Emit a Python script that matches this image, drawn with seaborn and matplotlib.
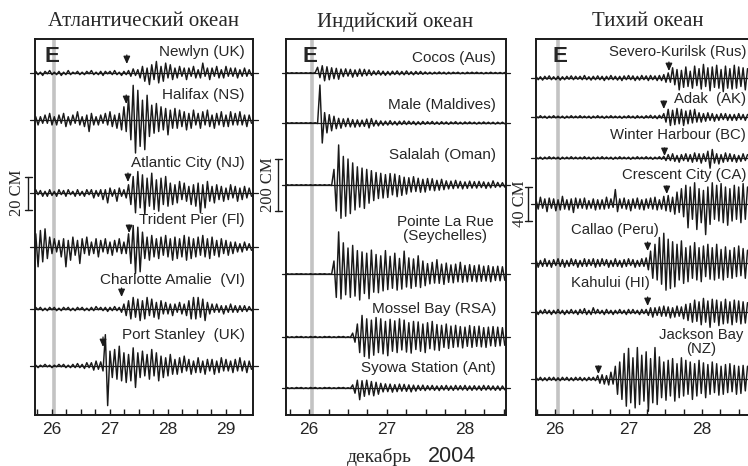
import numpy as np
import pandas as pd
import matplotlib
matplotlib.use("Agg")
import matplotlib.pyplot as plt
import seaborn as sns

sns.set_theme(style="white")
plt.rcParams["font.family"] = ["Liberation Sans", "DejaVu Sans"]
SERIF = ["Liberation Serif", "DejaVu Serif"]

# ---------------------------------------------------------------------------
# Sea-level records (cm), de-tided, sampled at regular steps (days of Dec 2004)
# ---------------------------------------------------------------------------
atl_t0, atl_dt = 25.72, 0.04
newlyn = [1, -1, 0.5, -1.5, 1, -0.5, 1.5, -1, 0.5, -1,
          1, -1.5, 0.5, -1, 1.5, -1, 0.5, -0.5, 1, -1,
          0.5, -1, 1, -0.5, 1.5, -1, 0.5, -1, 1, -1.5,
          1, -0.5, 1, -1, 1.5, -1, 0.5, -1.5, 1, -1,
          1.5, -2, 2.5, -1.5, 2, -3, 4, -5, 3, -7,
          5, -4, 7, -6, 4, -5, 6, -3, 5, -4,
          3, -3, 4, -2, 3, -4, 3, -2, 4, -3,
          2, -3, 6, -2, 3, -4, 3, -2, 4, -3,
          2, -3, 4, -2, 3, -2, 3, -3, 2, -2,
          3, -2, 2, -1.5]
halifax = [2, -3, 2, -2, 3, -2, 4, -3, 2, -3,
           3, -2, 4, -4, 2, -3, 3, -2, 5, -3,
           2, -4, 3, -7, 4, -3, 2, -3, 3, -2,
           4, -3, 5, -4, 3, -5, 4, -6, 8, -7,
           14, -12, 21, -20, 18, -16, 12, -18, 15, -10,
           9, -8, 10, -7, 8, -6, 7, -9, 6, -5,
           7, -5, 6, -4, 5, -6, 4, -5, 6, -3,
           4, -5, 5, -3, 6, -4, 3, -5, 4, -3,
           5, -4, 3, -4, 5, -3, 4, -3, 5, -3,
           3, -4, 3, -2]
atlantic_city = [2, -1, 1.5, -2, 1, -2, 2, -1.5, 1, -2,
                 2, -1, 1.5, -2, 2, -1, 1, -2, 2, -1.5,
                 1, -2, 2, -1, 2, -3, 1.5, -2, 2, -4,
                 2, -6, 3, -2, 2, -5, 3, -2, 2, -3,
                 5, -7, 10, -12, 13, -9, 11, -13, 9, -8,
                 12, -10, 8, -11, 9, -7, 10, -8, 6, -7,
                 5, -6, 7, -4, 6, -5, 4, -7, 5, -8,
                 6, -12, 5, -9, 7, -5, 4, -6, 5, -4,
                 4, -5, 3, -4, 5, -3, 4, -5, 3, -4,
                 4, -3, 3, -2]
trident_pier = [8, -12, 10, -9, 11, -7, 6, -4, 5, -3,
                4, -6, 5, -12, 4, -8, 6, -5, 4, -10,
                5, -4, 6, -5, 3, -4, 5, -6, 4, -3,
                5, -4, 3, -5, 4, -3, 5, -4, 3, -4,
                8, -10, 13, -16, 12, -15, 9, -7, 6, -8,
                7, -6, 5, -7, 6, -5, 7, -6, 5, -8,
                6, -7, 5, -6, 7, -8, 6, -7, 5, -6,
                6, -5, 7, -6, 5, -7, 6, -5, 4, -6,
                5, -4, 4, -5, 3, -4, 3, -3, 2, -3,
                3, -2, 2, -2]
charlotte_amalie = [1, -0.5, 1, -1, 0.5, -1, 1, -0.5, 1, -1,
                    0.5, -1, 1, -0.5, 1, -1, 0.5, -1, 1, -0.5,
                    1, -1, 0.5, -1, 1, -1, 1.5, -0.5, 1, -1,
                    1, -1.5, 1, -1, 1.5, -1, 1, -2, 3, -4,
                    5, -6, 7, -5, 6, -7, 5, -6, 7, -4,
                    6, -5, 4, -6, 5, -3, 4, -3, 3, -4,
                    3, -2, 4, -3, 3, -4, 5, -6, 7, -6,
                    7, -5, 6, -7, 4, -3, 3, -2, 3, -2,
                    2, -3, 2, -2, 3, -2, 2, -2, 2, -1.5,
                    2, -1.5, 1.5, -1]
port_stanley = [0.5, -1, 0.5, -0.5, 1, -0.5, 0.5, -1, 0.5, -0.5,
                1, -0.5, 1, -1, 0.5, -1, 1, -1, 1.5, -1,
                1, -1.5, 2, -1, 2, -2.5, 3, -2, 2.5, -3,
                19, -24, 9, -7, 10, -8, 12, -9, 8, -10,
                7, -9, 11, -13, 8, -7, 9, -6, 7, -8,
                10, -6, 8, -9, 6, -7, 5, -6, 7, -5,
                4, -5, 5, -4, 6, -3, 4, -5, 3, -4,
                5, -4, 3, -5, 4, -3, 4, -5, 3, -4,
                5, -3, 4, -3, 3, -4, 4, -3, 5, -3,
                3, -4, 3, -2]

ind_t0, ind_dt = 25.72, 0.03
cocos = [1, -1, 1, -1, 1, -1, 1, -1, 1, -1,
         1, -1, 2,
         22, -18, 28, -30, 24, -26, 20,
         -22, 18, -24, 15, -14, 16, -12, 14, -16, 12,
         -13, 15, -12, 14, -10, 12, -9, 8, -7, 9,
         -8, 7, -9, 6, -8, 7, -6, 8, -7, 6,
         -7, 8, -6, 5, -7, 6, -5, 6, -5, 4,
         -4, 3, -4, 3, -3, 4, -3, 3, -4, 3,
         -3, 3, -2, 3, -3, 2, -3, 3, -2, 3,
         -2, 3, -2, 2, -3, 2, -2, 3, -2, 2,
         -2, 2, -2, 2]
male = [1, -1, 1, -1, 1, -1, 1, -1, 1, -1,
        1, -1, 1, -2,
        146, -77, 40, -38, 32, -30,
        26, -22, 18, -20, 16, -14, 18, -15, 13, -16,
        12, -14, 11, -13, 15, -19, 17, -12, 10, -11,
        8, -9, 7, -8, 9, -7, 6, -8, 7, -6,
        8, -6, 7, -5, 6, -7, 5, -6, 6, -5,
        5, -4, 6, -5, 4, -5, 5, -4, 4, -5,
        4, -3, 5, -4, 3, -4, 4, -3, 4, -3,
        3, -4, 3, -3, 4, -3, 3, -3, 3, -4,
        3, -3, 3, -3]
salalah = [1, -1, 1, -1, 1, -1, 1, -1, 1, -1,
           1, -1, 1, -1, 1, -1, 1, -1, 1, -2,
           60, -100, 154, -128, 110, -120, 100, -110, 85, -96,
           70, -85, 65, -90, 60, -70, 55, -60, 48, -52,
           45, -50, 40, -48, 44, -38, 42, -45, 36, -40,
           30, -35, 28, -27, 32, -25, 26, -28, 22, -27,
           25, -20, 24, -22, 18, -20, 22, -18, 16, -15,
           15, -14, 18, -12, 14, -15, 12, -13, 15, -12,
           13, -12, 14, -10, 12, -13, 10, -11, 16, -9,
           10, -8, 9, -8]
pointe_la_rue = [1, -1, 0.5, -1, 1, -0.5, 1, -1, 0.5, -1,
                 1, -1, 0.5, -1, 1, -0.5, 1, -1, 0.5, -1,
                 50, -90, 162, -96, 120, -80, 100, -90, 110, -85,
                 90, -100, 85, -75, 80, -95, 92, -70, 75, -72,
                 70, -65, 90, -60, 68, -55, 80, -62, 60, -58,
                 88, -50, 62, -55, 58, -48, 70, -52, 50, -45,
                 40, -38, 45, -35, 55, -36, 38, -40, 42, -32,
                 35, -34, 38, -30, 45, -32, 33, -30, 36, -28,
                 32, -30, 35, -28, 30, -27, 32, -30, 28, -25,
                 30, -26, 28, -24]
mossel_bay = [2, -2, 1, -2, 2, -1, 2, -2, 1, -2,
              2, -1, 2, -2, 1, -2, 2, -1, 2, -2,
              1, -2, 2, -1, 2, -2, 1, -2,
              15, -20,
              50, -60, 83, -75, 70, -82, 65, -70, 75, -60,
              70, -65, 60, -72, 68, -55, 62, -60, 70, -50,
              65, -58, 55, -62, 60, -48, 58, -55, 50, -60,
              55, -45, 60, -50, 48, -52, 45, -40, 50, -44,
              42, -40, 45, -38, 40, -42, 38, -36, 44, -40,
              40, -36, 42, -38, 36, -40, 38, -34, 40, -36,
              38, -34, 36, -32]
syowa = [2, -2, 1, -2, 2, -1, 2, -2, 1, -2,
         2, -1, 2, -2, 1, -2, 2, -1, 2, -2,
         1, -2, 2, -1, 2, -2, 1, -2,
         12, -20,
         30, -45, 28, -32, 30, -26, 25, -30, 22, -24,
         18, -15, 16, -14, 15, -16, 13, -14, 15, -12,
         14, -13, 12, -15, 11, -12, 10, -9, 11, -10,
         9, -8, 10, -9, 8, -10, 9, -8, 10, -9,
         8, -9, 10, -8, 9, -8, 10, -9, 8, -9,
         9, -8, 8, -9, 10, -8, 9, -8, 8, -9,
         8, -9, 8, -7]

pac_t0, pac_dt = 25.74, 0.03
severo_kurilsk = [2, -2, 1.5, -2.5, 2, -1.5, 2.5, -2, 1.5, -2,
                  2, -2.5, 1.5, -2, 2, -1.5, 2.5, -2, 2, -1.5,
                  2, -2, 3, -2, 1.5, -2.5, 2, -2, 2.5, -2,
                  2, -3, 2, -2, 3, -2, 2, -2.5, 2, -3,
                  2.5, -2, 3, -2, 2.5, -3, 2, -2.5, 3, -2,
                  2.5, -3, 3, -2, 2.5, -3, 3, -3, 4, -5,
                  6, -5, 12, -8, 10, -14, 9, -11, 13, -10,
                  8, -12, 14, -9, 11, -13, 16, -10, 12, -15,
                  13, -11, 15, -12, 10, -16, 14, -12, 11, -13,
                  15, -12, 13, -10, 12, -14, 11]
adak = [1, -1, 1.5, -1, 1, -1.5, 1, -1, 1.5, -1,
        1, -1, 1, -1.5, 1, -1, 1.5, -1, 1, -1,
        1.5, -1, 1, -1, 1, -1.5, 1, -1, 1.5, -1,
        1, -1.5, 1, -1, 1.5, -1, 1, -1, 1, -1.5,
        1, -1, 1.5, -1, 1, -1.5, 1.5, -1, 1, -1.5,
        1.5, -1, 2, -1.5, 1.5, -2, 2, -1.5,
        4, -6, 9, -10, 8, -9, 10, -8, 9, -10, 7, -8,
        8, -7, 9, -6, 5, -6, 4, -5, 5, -4,
        4, -5, 3, -4, 4, -3, 4, -4, 3, -4,
        3, -4, 4, -3, 3, -4, 3]
winter_harbour = [1, -1, 1, -1.5, 1, -1, 1.5, -1, 1, -1,
                  1, -1.5, 1, -1, 1, -1, 1.5, -1, 1, -1,
                  1, -1, 1.5, -1, 1, -1.5, 1, -1, 1, -1,
                  1.5, -1, 1, -1, 1, -1.5, 1, -1, 1.5, -1,
                  1, -1, 1, -1.5, 1, -1, 1.5, -1, 1, -1,
                  1.5, -1, 1, -1.5, 1, -1, 1.5, -1.5,
                  2, -3, 4, -3, 5, -4, 3, -5, 4, -3, 5, -4,
                  4, -5, 6, -4, 5, -6, 5, -4, 8, -12,
                  10, -6, 5, -7, 4, -5, 6, -4, 5, -4,
                  4, -5, 3, -4, 5, -3, 4]
crescent_city = [5, -6, 8, -5, 6, -9, 7, -5, 6, -8,
                 5, -7, 9, -6, 5, -7, 6, -10, 7, -5,
                 6, -5, 7, -6, 4, -5, 6, -7, 5, -6,
                 5, -6, 8, -5, 6, -4, 17, -9, 6, -5,
                 7, -6, 5, -8, 6, -5, 7, -6, 5, -7,
                 6, -5, 7, -6, 8, -7, 5, -6, 9, -8,
                 10, -9, 8, -12, 14, -10, 18, -15, 22, -28,
                 20, -18, 25, -30, 18, -22, 16, -36, 20, -24,
                 25, -18, 22, -20, 24, -22, 20, -25, 18, -20,
                 22, -18, 20, -22, 24, -18, 20]
callao = [4, -5, 3, -4, 5, -4, 3, -5, 4, -3,
          5, -4, 4, -5, 3, -4, 5, -3, 4, -5,
          3, -4, 5, -4, 4, -3, 5, -5, 4, -4,
          5, -3, 4, -5, 3, -4, 5, -4, 3, -5,
          4, -4, 5, -3, 4, -5, 3, -4, 5, -4,
          6, -8, 14, -18, 22, -20, 30, -25, 35, -32,
          28, -30, 25, -28, 22, -20, 26, -24, 18, -22,
          20, -18, 24, -20, 18, -22, 20, -16, 22, -19,
          18, -20, 22, -18, 16, -20, 19, -17, 15, -18,
          18, -16, 20, -15, 17, -18, 15]
kahului = [2, -3, 2, -2, 3, -2, 2, -3, 2, -2,
           3, -2, 2, -3, 2, -2, 3, -2, 2, -3,
           3, -2, 4, -3, 2, -3, 5, -2, 3, -2,
           2, -3, 3, -2, 2, -3, 2, -2, 3, -2,
           2, -3, 3, -2, 3, -2, 2, -3, 3, -2,
           3, -4, 5, -6, 5, -4, 6, -5, 7, -5,
           6, -7, 5, -6, 7, -5, 6, -8, 9, -10,
           10, -12, 14, -11, 12, -15, 16, -12, 13, -18,
           15, -12, 14, -16, 12, -14, 15, -13, 12, -15,
           14, -12, 13, -14, 12, -13, 11]
jackson_bay = [2, -1.5, 2, -2, 1.5, -2, 2, -1.5, 2, -2,
               1.5, -2, 2, -1.5, 2, -2, 1.5, -2, 2, -1.5,
               2, -2, 1.5, -2, 2, -1.5, 2, -2, 4, -5,
               5, -6, 4, -7, 8, -6, 15, -18, 20, -24,
               30, -32, 36, -28, 25, -34, 37, -30, 28, -26,
               32, -38, 24, -28, 37, -30, 26, -22, 20, -25,
               22, -20, 24, -26, 18, -22, 25, -20, 22, -18,
               20, -24, 18, -20, 22, -17, 19, -22, 17, -18,
               20, -16, 18, -19, 15, -18, 17, -16, 18, -15,
               16, -18, 15, -17, 16, -14, 15]

# Station names and tsunami arrival times (days)
atl_names = ["Newlyn (UK)", "Halifax (NS)", "Atlantic City (NJ)",
             "Trident Pier (Fl)", "Charlotte Amalie  (VI)", "Port Stanley  (UK)"]
atl_arrival = [27.29, 27.28, 27.31, 27.33, 27.20, 26.88]
ind_names = ["Cocos (Aus)", "Male (Maldives)", "Salalah (Oman)",
             "Pointe La Rue\n(Seychelles)", "Mossel Bay (RSA)", "Syowa Station (Ant)"]
pac_names = ["Severo-Kurilsk (Rus)", "Adak  (AK)", "Winter Harbour (BC)",
             "Crescent City (CA)", "Callao (Peru)", "Kahului (HI)", "Jackson Bay\n(NZ)"]
pac_arrival = [27.55, 27.48, 27.49, 27.52, 27.26, 27.26, 26.59]
quake_time = 26.04
day_ticks = [26, 27, 28, 29]

# ---------------------------------------------------------------------------
# Layout (pixels; figure is 748 x 466)
# ---------------------------------------------------------------------------
W, H = 748, 466
AX_TOP, AX_BOT = 39, 415

fig = plt.figure(figsize=(W / 100, H / 100), dpi=100)


def fx(x):
    return x / W


def fy(y):
    return 1 - y / H


def make_axes(left, right, xlim, px_per_cm):
    ax = fig.add_axes([fx(left), fy(AX_BOT), (right - left) / W, (AX_BOT - AX_TOP) / H])
    ax.set_xlim(*xlim)
    ax.set_ylim(0, (AX_BOT - AX_TOP) / px_per_cm)
    ax.set_yticks([])
    ax.set_xticks([t for t in day_ticks if xlim[0] < t < xlim[1]])
    ax.set_xticks(np.arange(25.75, xlim[1], 0.25), minor=True)
    ax.tick_params(axis="x", which="both", direction="in", length=4, width=1,
                   bottom=True, top=False, color="k", labelsize=12.5, pad=5)
    ax.tick_params(axis="x", which="minor", labelbottom=False)
    for s in ax.spines.values():
        s.set_color("k")
        s.set_linewidth(1.4)
    ax.set_xlabel("")
    ax.set_ylabel("")
    ax.axvline(quake_time, color="#c3c3c3", lw=2.6, zorder=0.5)
    return ax


def draw_traces(ax, names, series, t0, dt, base_px, px_per_cm, ext_px):
    frames = []
    offsets = []
    for name, vals, b in zip(names, series, base_px):
        off = (AX_BOT - b) / px_per_cm
        offsets.append(off)
        v = np.asarray(vals, dtype=float)
        frames.append(pd.DataFrame({"station": name,
                                    "t": t0 + dt * np.arange(len(v)),
                                    "y": off + v}))
    df = pd.concat(frames, ignore_index=True)
    ax_w = ax.get_position().width * W
    e = ext_px / ax_w
    for off in offsets:
        ax.plot([-e, 1 + e], [off, off], transform=ax.get_yaxis_transform(),
                color="k", lw=0.9, clip_on=False, zorder=1)
    sns.lineplot(data=df, x="t", y="y", units="station", estimator=None,
                 color="k", lw=1.05, ax=ax, legend=False, zorder=2)
    ax.set_xlabel("")
    ax.set_ylabel("")
    return offsets


def scale_bar(ax, x_px, center_off, length_cm, label, label_x):
    tr = ax.get_yaxis_transform()
    left = ax.get_position().x0 * W
    ax_w = ax.get_position().width * W
    xa = (x_px - left) / ax_w
    cap = 3.5 / ax_w
    y0, y1 = center_off - length_cm / 2, center_off + length_cm / 2
    ax.plot([xa, xa], [y0, y1], transform=tr, color="k", lw=1.0, clip_on=False)
    for yy in (y0, y1):
        ax.plot([xa - cap, xa + cap], [yy, yy], transform=tr, color="k",
                lw=1.0, clip_on=False)
    disp = ax.transData.transform((ax.get_xlim()[0], center_off))
    fig.text(fx(label_x), disp[1] / H, label, rotation=90, ha="center",
             va="center", fontsize=12, family=SERIF)


def arrows(ax, times, tops, tips):
    for t, y0, y1 in zip(times, tops, tips):
        ax.annotate("", xy=(t, H - y1), xytext=(t, H - y0),
                    xycoords=("data", "figure pixels"),
                    textcoords=("data", "figure pixels"),
                    arrowprops=dict(arrowstyle="-|>,head_length=0.45,head_width=0.2",
                                    color="k", lw=0.9, shrinkA=0, shrinkB=0,
                                    mutation_scale=10), annotation_clip=False)


def labels(items, size=11):
    for text, x, y, ha in items:
        fig.text(fx(x), fy(y), text, ha=ha, va="center", fontsize=size,
                 linespacing=1.0)


# ---- Atlantic ----
ax1 = make_axes(35, 253, (25.707, 29.466), 33 / 20)
off1 = draw_traces(ax1, atl_names,
                   [newlyn, halifax, atlantic_city, trident_pier,
                    charlotte_amalie, port_stanley],
                   atl_t0, atl_dt, [73, 120, 193, 247, 309, 366], 33 / 20, 5)
scale_bar(ax1, 28, off1[2], 20, "20 СМ", 17)
arrows(ax1, atl_arrival, [55, 95, 173, 225, 288, 337], [64, 104, 182, 233, 297, 347])
labels([(n, 245, y, "right") for n, y in zip(atl_names, [52, 95, 163, 220, 280, 335])])
fig.text(fx(44), fy(57), "E", fontsize=16, weight="bold", va="center", ha="left")
fig.text(fx(144), fy(21), "Атлантический океан", ha="center", va="center",
         fontsize=15, family=SERIF)

# ---- Indian ----
ax2 = make_axes(286, 506, (25.705, 28.526), 52 / 200)
off2 = draw_traces(ax2, ind_names,
                   [cocos, male, salalah, pointe_la_rue, mossel_bay, syowa],
                   ind_t0, ind_dt, [73, 123, 185, 274, 337, 388], 52 / 200, 4)
scale_bar(ax2, 278, off2[2], 200, "200 СМ", 268)
labels([(ind_names[0], 496, 58, "right"), (ind_names[1], 496, 105, "right"),
        (ind_names[2], 496, 155, "right"), (ind_names[3], 445, 229, "center"),
        (ind_names[4], 496, 309, "right"), (ind_names[5], 496, 368, "right")])
fig.text(fx(302), fy(57), "E", fontsize=16, weight="bold", va="center", ha="left")
fig.text(fx(395), fy(22), "Индийский океан", ha="center", va="center",
         fontsize=15, family=SERIF)
fig.text(fx(412), fy(462), "декабрь", ha="right", va="baseline", fontsize=14,
         family=SERIF)
fig.text(fx(428), fy(462), "2004", ha="left", va="baseline", fontsize=15.5)

# ---- Pacific ----
ax3 = make_axes(536, 760, (25.74, 28.79), 34 / 40)
off3 = draw_traces(ax3, pac_names,
                   [severo_kurilsk, adak, winter_harbour, crescent_city,
                    callao, kahului, jackson_bay],
                   pac_t0, pac_dt, [78, 117, 158, 204, 263, 312, 379], 34 / 40, 5)
scale_bar(ax3, 528, off3[3], 40, "40 СМ", 520)
arrows(ax3, pac_arrival, [62, 101, 148, 186, 242, 297, 366],
       [71, 109, 156, 194, 251, 306, 374])
labels([(pac_names[0], 746, 52, "right"), (pac_names[1], 746, 99, "right"),
        (pac_names[2], 746, 135, "right"), (pac_names[3], 746, 175, "right"),
        (pac_names[4], 571, 230, "left"), (pac_names[5], 571, 283, "left"),
        (pac_names[6], 701, 342, "center")], size=10.7)
fig.text(fx(552), fy(57), "E", fontsize=16, weight="bold", va="center", ha="left")
fig.text(fx(648), fy(22), "Тихий океан", ha="center", va="center",
         fontsize=15, family=SERIF)

fig.savefig("out.png", dpi=100)
